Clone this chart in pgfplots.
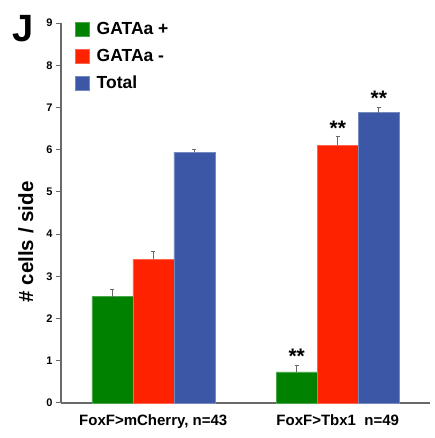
\documentclass[border=0pt]{standalone}
\usepackage{pgfplots}
\pgfplotsset{compat=1.18}
\usepackage{fontspec}
\setmainfont{Liberation Sans}
\definecolor{cgreen}{RGB}{0,130,0}
\definecolor{cred}{RGB}{255,34,0}
\definecolor{cblue}{RGB}{59,87,166}
\definecolor{caxis}{RGB}{105,105,105}
\begin{document}
\begin{tikzpicture}
\useasboundingbox (-61pt,-35pt) rectangle (373pt,403pt);
\begin{axis}[
  at={(0,0)}, anchor=south west,
  scale only axis, width=369pt, height=380pt,
  xmin=-0.5, xmax=1.5, ymin=0, ymax=9,
  ybar=0pt, bar width=41pt,
  axis x line=bottom, axis y line=left,
  axis line style={-, caxis, line width=1.6pt},
  xtick={0,1}, xticklabels={FoxF>mCherry{,} n=43, FoxF>Tbx1\ \ n=49},
  x tick style={draw=none},
  x tick label style={font=\fontsize{15}{17}\selectfont\bfseries, yshift=-3pt},
  ytick={0,...,9},
  y tick style={caxis, line width=1pt},
  tick align=outside, major tick length=5pt,
  y tick label style={font=\fontsize{11}{13}\selectfont\bfseries},
  /pgf/number format/assume math mode=true,
  ylabel={\# cells / side},
  ylabel style={font=\fontsize{20.5}{22}\selectfont\bfseries, at={(ticklabel cs:0.424)}, yshift=6pt},
  legend style={at={(0.03,1.012)}, anchor=north west, draw=none, fill=none,
    font=\fontsize{17.5}{20}\selectfont\bfseries, row sep=9pt,
    legend cell align=left},
  legend image code/.code={\fill[#1] (0pt,-7pt) rectangle (14pt,7pt); \path (19pt,0pt);},
  error bars/error bar style={caxis, line width=0.8pt},
  error bars/error mark options={caxis, line width=0.8pt, mark size=2.2pt, rotate=90},
  clip=false,
]
\addplot[fill=cgreen, draw=cgreen!70!white, line width=0.4pt,
  error bars/.cd, y dir=plus, y explicit]
  coordinates {(0,2.52) +- (0,0.17) (1,0.74) +- (0,0.16)};
\addplot[fill=cred, draw=cred!70!white, line width=0.4pt,
  error bars/.cd, y dir=plus, y explicit]
  coordinates {(0,3.40) +- (0,0.18) (1,6.11) +- (0,0.20)};
\addplot[fill=cblue, draw=cblue!70!white, line width=0.4pt,
  error bars/.cd, y dir=plus, y explicit]
  coordinates {(0,5.94) +- (0,0.07) (1,6.88) +- (0,0.13)};
\legend{GATAa +, GATAa -, Total}
\node[font=\fontsize{21}{22}\selectfont\bfseries, above, inner sep=1pt] at (axis cs:1,0.90) [xshift=-41pt] {**};
\node[font=\fontsize{21}{22}\selectfont\bfseries, above, inner sep=1pt] at (axis cs:1,6.31) {**};
\node[font=\fontsize{21}{22}\selectfont\bfseries, above, inner sep=1pt] at (axis cs:1,7.01) [xshift=41pt] {**};
\node[font=\fontsize{38}{40}\selectfont\bfseries, anchor=center] at (rel axis cs:-0.103,0.985) {J};
\end{axis}
\end{tikzpicture}
\end{document}
